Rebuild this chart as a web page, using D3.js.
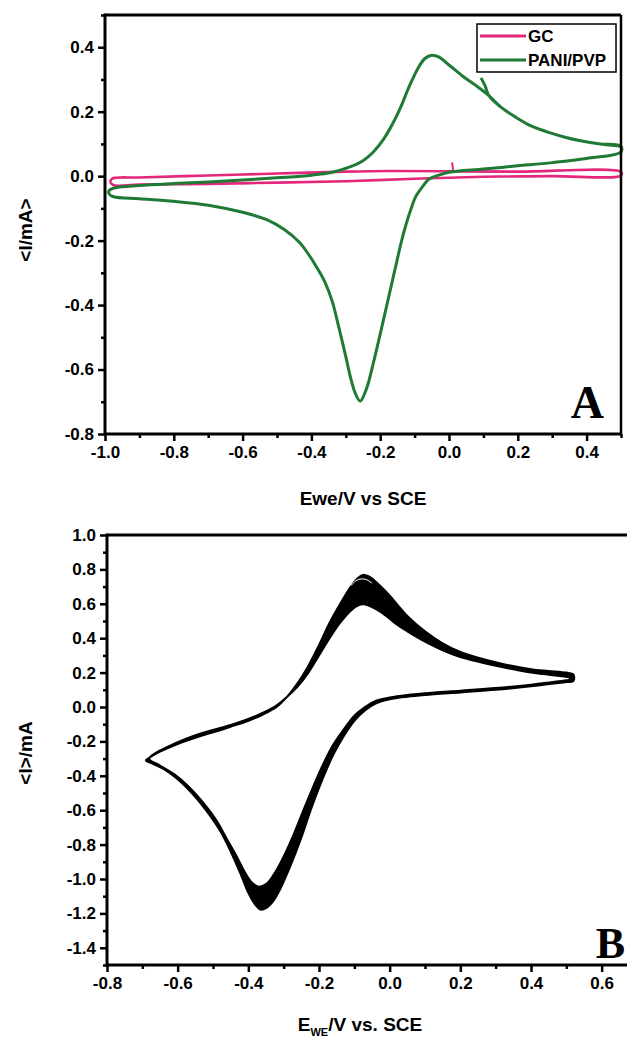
<!DOCTYPE html>
<html><head><meta charset="utf-8">
<script src="https://cdn.jsdelivr.net/npm/d3@7"></script>
<style>
html,body{margin:0;padding:0;background:#fff;}
svg{display:block;}
text{font-family:"Liberation Sans",Arial,sans-serif;font-weight:bold;fill:#000;}
</style></head>
<body>
<svg id="c" width="627" height="1037"></svg>
<script>
// ---------- Panel A data ----------
const aXTicks = [-1.0,-0.8,-0.6,-0.4,-0.2,0.0,0.2,0.4];
const aYTicks = [-0.8,-0.6,-0.4,-0.2,0.0,0.2,0.4];
const aXMinor = [-0.9,-0.7,-0.5,-0.3,-0.1,0.1,0.3,0.5];
const aYMinor = [-0.7,-0.5,-0.3,-0.1,0.1,0.3,0.5];
const seriesNames = ["GC","PANI/PVP"];

// GC (glassy carbon) loop
const gcE = [-0.985,-0.98,-0.9,-0.7,-0.5,-0.3,-0.17,0.0,0.2,0.5, 0.5,0.3,0.1,-0.1,-0.3,-0.5,-0.7,-0.9,-0.975,-0.985];
const gcI = [-0.019,-0.008,-0.004,0.002,0.008,0.014,0.016,0.015,0.014,0.013, 0.002,0.0,-0.002,-0.008,-0.016,-0.02,-0.024,-0.026,-0.028,-0.019];
const gcSpikeE = [0.009,0.012];
const gcSpikeI = [0.043,0.018];

// PANI/PVP: start spur, then anodic to 0.5, cathodic to -1.0, anodic back up
const paniStartE = [0.093,0.105,0.116];
const paniStartI = [0.305,0.28,0.25];
const paniCathE = [0.5,0.4,0.3,0.2,0.1,0.0,-0.03,-0.058,-0.075,-0.096,-0.11,-0.125,-0.14,-0.155,-0.17,-0.185,-0.2,-0.22,-0.24,-0.258,-0.272,-0.285,-0.3,-0.32,-0.339,-0.36,-0.386,-0.41,-0.435,-0.48,-0.53,-0.6,-0.7,-0.8,-0.9,-0.975,-0.988];
const paniCathI = [0.075,0.055,0.042,0.032,0.022,0.012,0.003,-0.009,-0.03,-0.062,-0.1,-0.15,-0.21,-0.28,-0.35,-0.42,-0.49,-0.58,-0.66,-0.698,-0.675,-0.63,-0.56,-0.47,-0.39,-0.33,-0.28,-0.24,-0.205,-0.165,-0.135,-0.112,-0.09,-0.078,-0.07,-0.064,-0.055];
const paniAnodE = [-0.988,-0.97,-0.9,-0.8,-0.7,-0.6,-0.5,-0.4,-0.34,-0.29,-0.25,-0.22,-0.19,-0.165,-0.14,-0.115,-0.09,-0.07,-0.05,-0.03,0.0,0.04,0.08,0.116,0.15,0.194,0.24,0.29,0.34,0.386,0.44,0.5];
const paniAnodI = [-0.045,-0.036,-0.029,-0.023,-0.018,-0.012,-0.005,0.003,0.012,0.028,0.048,0.075,0.115,0.16,0.215,0.28,0.335,0.365,0.375,0.37,0.345,0.31,0.28,0.25,0.215,0.183,0.155,0.136,0.12,0.109,0.1,0.093];

// ---------- Panel B data ----------
const bXTicks = [-0.8,-0.6,-0.4,-0.2,0.0,0.2,0.4,0.6];
const bYTicks = [-1.4,-1.2,-1.0,-0.8,-0.6,-0.4,-0.2,0.0,0.2,0.4,0.6,0.8,1.0];
const bXMinor = [-0.7,-0.5,-0.3,-0.1,0.1,0.3,0.5];
const bYMinor = [-1.5,-1.3,-1.1,-0.9,-0.7,-0.5,-0.3,-0.1,0.1,0.3,0.5,0.7,0.9];

// outermost cycle
const outerE = [-0.69,-0.68,-0.65,-0.6,-0.537,-0.48,-0.443,-0.4,-0.36,-0.32,-0.29,-0.26,-0.23,-0.2,-0.17,-0.14,-0.11,-0.09,-0.076,-0.06,-0.04,-0.01,0.02,0.05,0.1,0.15,0.2,0.3,0.4,0.45,0.5,0.52,
  0.52,0.5,0.4,0.3,0.2,0.1,0.05,0.0,-0.04,-0.07,-0.1,-0.13,-0.16,-0.19,-0.22,-0.25,-0.28,-0.31,-0.33,-0.35,-0.365,-0.38,-0.4,-0.42,-0.45,-0.48,-0.52,-0.56,-0.6,-0.64,-0.67,-0.69];
const outerI = [-0.31,-0.295,-0.26,-0.215,-0.17,-0.135,-0.11,-0.08,-0.045,0.0,0.06,0.14,0.24,0.36,0.49,0.6,0.70,0.75,0.768,0.76,0.73,0.67,0.6,0.53,0.44,0.37,0.32,0.26,0.22,0.21,0.2,0.19,
  0.15,0.145,0.12,0.1,0.085,0.07,0.06,0.045,0.02,-0.02,-0.08,-0.17,-0.28,-0.42,-0.58,-0.76,-0.92,-1.06,-1.13,-1.17,-1.178,-1.15,-1.08,-0.98,-0.84,-0.72,-0.6,-0.5,-0.42,-0.36,-0.33,-0.31];
// innermost cycle
const innerE = [-0.68,-0.6,-0.537,-0.443,-0.4,-0.36,-0.32,-0.29,-0.26,-0.23,-0.2,-0.17,-0.14,-0.11,-0.09,-0.075,-0.06,-0.04,-0.01,0.02,0.05,0.1,0.15,0.2,0.3,0.4,0.5,0.51,
  0.51,0.5,0.4,0.3,0.2,0.1,0.05,0.0,-0.04,-0.07,-0.1,-0.13,-0.16,-0.19,-0.22,-0.25,-0.28,-0.31,-0.33,-0.35,-0.37,-0.39,-0.41,-0.43,-0.46,-0.49,-0.53,-0.57,-0.61,-0.65,-0.68];
const innerI = [-0.3,-0.205,-0.155,-0.1,-0.07,-0.035,0.01,0.06,0.12,0.2,0.3,0.4,0.49,0.56,0.59,0.597,0.59,0.57,0.53,0.48,0.44,0.38,0.33,0.29,0.24,0.2,0.175,0.17,
  0.16,0.155,0.13,0.11,0.095,0.08,0.07,0.055,0.035,0.0,-0.05,-0.13,-0.22,-0.34,-0.48,-0.63,-0.78,-0.91,-0.98,-1.03,-1.045,-1.02,-0.96,-0.88,-0.77,-0.66,-0.55,-0.46,-0.39,-0.34,-0.3];
// last cycle trace (white line visible inside peak)
const lastE = [-0.11,-0.095,-0.08,-0.065,-0.05];
const lastI = [0.705,0.735,0.745,0.74,0.72];

const svg = d3.select("#c");
const zip = (xs, ys) => xs.map((x,i)=>[x, ys[i]]);

function axes(g, x, y, xt, yt, xm, ym, fmt, drawRight) {
  const [x0,x1] = x.range(), [y0,y1] = y.range();
  g.append("g").attr("transform",`translate(0,${y0})`)
    .call(d3.axisBottom(x).tickValues(xm).tickSize(4).tickFormat(""))
    .call(s=>s.select(".domain").remove())
    .selectAll("line").attr("stroke-width",2.5);
  g.append("g").attr("transform",`translate(${x0},0)`)
    .call(d3.axisLeft(y).tickValues(ym).tickSize(4).tickFormat(""))
    .call(s=>s.select(".domain").remove())
    .selectAll("line").attr("stroke-width",2.5);
  const gx = g.append("g").attr("transform",`translate(0,${y0})`)
    .call(d3.axisBottom(x).tickValues(xt).tickSize(7).tickPadding(5).tickFormat(fmt));
  gx.select(".domain").remove();
  gx.selectAll("line").attr("stroke-width",2.5);
  gx.selectAll("text").attr("font-size",17).attr("font-family","Liberation Sans, Arial").attr("font-weight","bold").attr("fill","#000");
  const gy = g.append("g").attr("transform",`translate(${x0},0)`)
    .call(d3.axisLeft(y).tickValues(yt).tickSize(7).tickPadding(4).tickFormat(fmt));
  gy.select(".domain").remove();
  gy.selectAll("line").attr("stroke-width",2.5);
  gy.selectAll("text").attr("font-size",17).attr("font-family","Liberation Sans, Arial").attr("font-weight","bold").attr("fill","#000");
  g.append("line").attr("x1",x0).attr("x2",x1).attr("y1",y0).attr("y2",y0).attr("stroke","#000").attr("stroke-width",3);
  g.append("line").attr("x1",x0).attr("x2",x0).attr("y1",y0+1.5).attr("y2",y1-1.5).attr("stroke","#000").attr("stroke-width",3);
  g.append("line").attr("x1",x0).attr("x2",x1).attr("y1",y1).attr("y2",y1).attr("stroke","#000").attr("stroke-width",3);
  if (drawRight) g.append("line").attr("x1",x1).attr("x2",x1).attr("y1",y0).attr("y2",y1).attr("stroke","#000").attr("stroke-width",2.5);
}
const fmt = d3.format(".1f");
const fmtTick = v => fmt(v).replace("−","-");

// ---------- Panel A ----------
const xA = d3.scaleLinear().domain([-1.0,0.5]).range([105,621]);
const yA = d3.scaleLinear().domain([-0.8,0.5]).range([434,15]);
const gA = svg.append("g");
const lineA = d3.line().x(d=>xA(d[0])).y(d=>yA(d[1])).curve(d3.curveCatmullRom.alpha(0.5));
const pink = "#e3277b", green = "#1f7a35";

gA.append("path").datum(zip(gcE,gcI)).attr("d",lineA).attr("fill","none").attr("stroke",pink).attr("stroke-width",2.6);
gA.append("path").datum(zip(gcSpikeE,gcSpikeI)).attr("d",lineA).attr("fill","none").attr("stroke",pink).attr("stroke-width",2);
const paniPts = zip(paniStartE,paniStartI)
  .concat(zip(paniAnodE,paniAnodI).filter(d=>d[0]>0.116))
  .concat(zip(paniCathE,paniCathI))
  .concat(zip(paniAnodE,paniAnodI));
gA.append("path").datum(paniPts).attr("d",lineA).attr("fill","none").attr("stroke",green).attr("stroke-width",3).attr("stroke-linejoin","round");

axes(gA, xA, yA, aXTicks, aYTicks, aXMinor, aYMinor, fmtTick, true);

const lg = gA.append("g");
lg.append("rect").attr("x",477).attr("y",24).attr("width",139).attr("height",48).attr("fill","#fff").attr("stroke","#000").attr("stroke-width",1.5);
[pink, green].forEach((c,i)=>{
  const yy = 36 + i*24;
  lg.append("line").attr("x1",480).attr("x2",526).attr("y1",yy).attr("y2",yy).attr("stroke",c).attr("stroke-width",3);
  lg.append("text").attr("x",528).attr("y",yy+6).attr("font-size",17).text(seriesNames[i]);
});
gA.append("text").attr("x",363).attr("y",505).attr("text-anchor","middle").attr("font-size",19).text("Ewe/V vs SCE");
gA.append("text").attr("transform","translate(32,230) rotate(-90)").attr("text-anchor","middle").attr("font-size",19).text("<I/mA>");
gA.append("text").attr("x",604).attr("y",418).attr("text-anchor","end").attr("font-size",46)
  .style("font-family","Liberation Serif, Times New Roman, serif").text("A");

// ---------- Panel B ----------
const xB = d3.scaleLinear().domain([-0.8,0.7]).range([107,637]);
const yB = d3.scaleLinear().domain([-1.5,1.0]).range([965,535]);
const gB = svg.append("g");
const lineB = d3.line().x(d=>xB(d[0])).y(d=>yB(d[1])).curve(d3.curveCatmullRomClosed.alpha(0.5));
const lineBo = d3.line().x(d=>xB(d[0])).y(d=>yB(d[1])).curve(d3.curveCatmullRom.alpha(0.5));
const outerPts = zip(outerE,outerI).slice(0,-1);
const innerPts = zip(innerE,innerI).slice(0,-1);
gB.append("path").attr("d", lineB(outerPts) + lineB(innerPts))
  .attr("fill","#000").attr("fill-rule","evenodd").attr("stroke","#000").attr("stroke-width",2);
gB.append("path").datum(zip(lastE,lastI)).attr("d",lineBo).attr("fill","none").attr("stroke","#fff").attr("stroke-width",1);

axes(gB, xB, yB, bXTicks, bYTicks, bXMinor, bYMinor, fmtTick, false);

const xt = gB.append("text").attr("x",360).attr("y",1031).attr("text-anchor","middle").attr("font-size",19);
xt.append("tspan").text("E");
xt.append("tspan").attr("font-size",11).attr("dy",5).text("WE");
xt.append("tspan").attr("dy",-5).text("/V vs. SCE");
gB.append("text").attr("transform","translate(32,753) rotate(-90)").attr("text-anchor","middle").attr("font-size",19).text("<I>/mA");
gB.append("text").attr("x",625).attr("y",958).attr("text-anchor","end").attr("font-size",44)
  .style("font-family","Liberation Serif, Times New Roman, serif").text("B");
</script>
</body></html>
